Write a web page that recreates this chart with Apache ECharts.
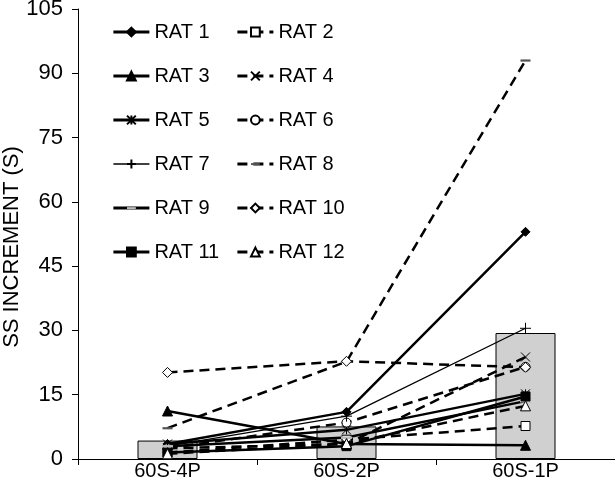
<!DOCTYPE html>
<html>
<head>
<meta charset="utf-8">
<script src="https://cdn.jsdelivr.net/npm/echarts@6/dist/echarts.min.js"></script>
<style>
html,body{margin:0;padding:0;background:#fff;}
#c{width:615px;height:492px;}
</style>
</head>
<body>
<div id="c"></div>
<script>
var categories = ['60S-4P', '60S-2P', '60S-1P'];
var yTicks = [0, 15, 30, 45, 60, 75, 90, 105];
var yTitle = 'SS INCREMENT (S)';
var meanBars = [4.3, 7.6, 29.4];
var rat1 = [3.5, 11, 53];
var rat2 = [1.5, 4.5, 7.7];
var rat3 = [11.2, 3.5, 3.2];
var rat4 = [2.5, 3.5, 23.8];
var rat5 = [3.5, 6.8, 15.2];
var rat6 = [2.5, 8.5, 21.5];
var rat7 = [3, 10, 30.5];
var rat8 = [7.2, 22.7, 93];
var rat9 = [3, 5, 13.5];
var rat10 = [20.2, 22.8, 21.4];
var rat11 = [1.5, 3, 14.6];
var rat12 = [1.2, 3.6, 12.4];

var X_PATH = 'path://M0,0L10,10M10,0L0,10';
var AST_PATH = 'path://M0,0L10,10M10,0L0,10M5,0L5,10';
var PLUS_PATH = 'path://M5,0L5,10M0,5L10,5';
var DASH_PATH = 'path://M0,0M0,10M0,4L10,4L10,6.2L0,6.2Z';

function lineSeries(name, data, opts) {
  return {
    name: name,
    type: 'line',
    data: data,
    z: 5,
    symbol: opts.symbol,
    symbolSize: opts.size || 9,
    showAllSymbol: true,
    lineStyle: { color: '#000', width: opts.width || 2.5, type: opts.dashed ? [10, 6] : 'solid' },
    itemStyle: { color: opts.fill || '#000', borderColor: opts.border || '#000', borderWidth: opts.bw === undefined ? 1 : opts.bw },
    emphasis: { disabled: true }
  };
}

var series = [
  {
    name: 'mean', type: 'bar', data: meanBars, barWidth: 60, z: 1,
    itemStyle: { color: '#d0d0d0', borderColor: '#000', borderWidth: 1 },
    emphasis: { disabled: true }
  },
  lineSeries('RAT 1', rat1, { symbol: 'diamond', size: 9 }),
  lineSeries('RAT 2', rat2, { symbol: 'rect', size: 9, dashed: true, fill: '#fff' }),
  lineSeries('RAT 3', rat3, { symbol: 'triangle', size: 10 }),
  lineSeries('RAT 4', rat4, { symbol: X_PATH, size: 9, dashed: true, fill: '#fff' }),
  lineSeries('RAT 5', rat5, { symbol: AST_PATH, size: 9, fill: '#fff' }),
  lineSeries('RAT 6', rat6, { symbol: 'circle', size: 9, dashed: true, fill: '#fff' }),
  lineSeries('RAT 7', rat7, { symbol: PLUS_PATH, size: 11, width: 1.3, fill: '#fff' }),
  lineSeries('RAT 8', rat8, { symbol: DASH_PATH, size: 10, dashed: true, fill: '#555', border: '#555', bw: 0 }),
  lineSeries('RAT 9', rat9, { symbol: DASH_PATH, size: 11, fill: '#bbb', border: '#bbb', bw: 0 }),
  lineSeries('RAT 10', rat10, { symbol: 'diamond', size: 10, dashed: true, fill: '#fff' }),
  lineSeries('RAT 11', rat11, { symbol: 'rect', size: 9 }),
  lineSeries('RAT 12', rat12, { symbol: 'triangle', size: 10, dashed: true, fill: '#fff' })
];

var FONT = 'Liberation Sans, Arial, sans-serif';
var legendText = { fontFamily: FONT, fontSize: 20, color: '#000' };

function legendItems(names) {
  return names.map(function (n) {
    return { name: n, lineStyle: { color: '#000', width: n === 'RAT 7' ? 1.3 : 2.8 } };
  });
}

var option = {
  animation: false,
  backgroundColor: '#fff',
  grid: { left: 78, right: 0, top: 9, bottom: 33, containLabel: false, outerBoundsMode: 'none' },
  graphic: [
    {
      type: 'text', x: 12, y: 247, rotation: Math.PI / 2, silent: true,
      style: { text: yTitle, fill: '#000', font: '22px ' + FONT, align: 'center', verticalAlign: 'middle' }
    }
  ],
  legend: [
    {
      orient: 'vertical', left: 107, top: 17, itemWidth: 36, itemHeight: 11, itemGap: 24,
      textStyle: legendText, selectedMode: false,
      data: legendItems(['RAT 1', 'RAT 3', 'RAT 5', 'RAT 7', 'RAT 9', 'RAT 11'])
    },
    {
      orient: 'vertical', left: 231, top: 17, itemWidth: 36, itemHeight: 11, itemGap: 24,
      textStyle: legendText, selectedMode: false,
      data: legendItems(['RAT 2', 'RAT 4', 'RAT 6', 'RAT 8', 'RAT 10', 'RAT 12'])
    }
  ],
  xAxis: {
    type: 'category',
    data: categories,
    boundaryGap: true,
    axisLine: { lineStyle: { color: '#000', width: 1 } },
    axisTick: { show: true, alignWithLabel: false, length: 6, lineStyle: { color: '#000' } },
    axisLabel: { color: '#000', fontSize: 20, fontFamily: FONT, margin: 2 },
    splitLine: { show: false }
  },
  yAxis: {
    type: 'value',
    min: 0, max: 105, interval: 15,
    axisLine: { show: true, lineStyle: { color: '#000', width: 1 } },
    axisTick: { show: true, length: 6, lineStyle: { color: '#000' } },
    axisLabel: {
      color: '#000', fontSize: 22, fontFamily: FONT, margin: 15,
      formatter: function (v) { return yTicks.indexOf(v) >= 0 ? String(v) : ''; }
    },
    splitLine: { show: false }
  },
  series: series
};

var chart = echarts.init(document.getElementById('c'), null, { renderer: 'canvas' });
chart.setOption(option);
</script>
</body>
</html>
